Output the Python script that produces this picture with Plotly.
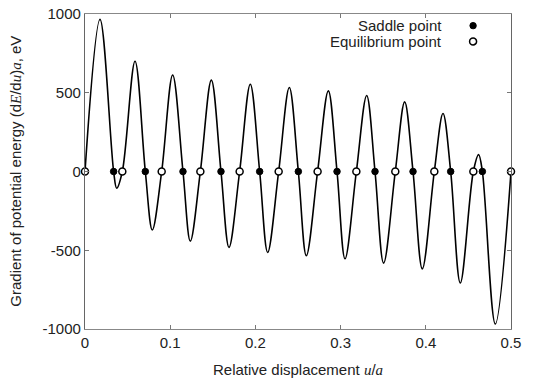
import plotly.graph_objects as go

# Curve key points (relative displacement u/a, gradient value in eV)
curve_x = [0, 0.0176, 0.0336, 0.0372, 0.0438, 0.0587, 0.0708, 0.079, 0.09, 0.1029,
           0.115, 0.1236, 0.1354, 0.1483, 0.1596, 0.169, 0.1815, 0.194, 0.205, 0.2144,
           0.2273, 0.2398, 0.2504, 0.2598, 0.273, 0.2856, 0.2958, 0.3052, 0.3185, 0.3306,
           0.3404, 0.3505, 0.3642, 0.3752, 0.385, 0.3959, 0.41, 0.4202, 0.4292, 0.4405,
           0.4558, 0.462, 0.4664, 0.4816, 0.5]
curve_y = [0, 966, 0, -106, 0, 700, 0, -371, 0, 613,
           0, -442, 0, 580, 0, -482, 0, 554, 0, -514,
           0, 533, 0, -535, 0, 512, 0, -554, 0, 483,
           0, -582, 0, 442, 0, -618, 0, 368, 0, -708,
           0, 107, 0, -968, 0]

saddle_x = [0.0336, 0.0708, 0.115, 0.1596, 0.205, 0.2504, 0.2958, 0.3404, 0.385, 0.4292, 0.4664]
saddle_y = [0] * len(saddle_x)
equil_x = [0, 0.0438, 0.09, 0.1354, 0.1815, 0.2273, 0.273, 0.3185, 0.3642, 0.41, 0.4558, 0.5]
equil_y = [0] * len(equil_x)

x_ticks = [0, 0.1, 0.2, 0.3, 0.4, 0.5]
x_tick_labels = ["0", "0.1", "0.2", "0.3", "0.4", "0.5"]
y_ticks = [-1000, -500, 0, 500, 1000]
y_tick_labels = ["-1000", "-500", "0", "500", "1000"]

legend_labels = ["Saddle point", "Equilibrium point"]

FONT = "Liberation Sans, Arial, sans-serif"
SERIF = "'Liberation Serif', 'Times New Roman', serif"
FS = 15

fig = go.Figure()
fig.add_trace(go.Scatter(x=curve_x, y=curve_y, mode="lines",
                         line=dict(color="black", width=1.6, shape="spline", smoothing=1.0),
                         showlegend=False, hoverinfo="skip"))
fig.add_trace(go.Scatter(x=saddle_x, y=saddle_y, mode="markers", name=legend_labels[0],
                         marker=dict(symbol="circle", size=6.5, color="black",
                                     line=dict(color="black", width=1)),
                         showlegend=False, cliponaxis=False))
fig.add_trace(go.Scatter(x=equil_x, y=equil_y, mode="markers", name=legend_labels[1],
                         marker=dict(symbol="circle", size=7, color="white",
                                     line=dict(color="black", width=1.5)),
                         showlegend=False, cliponaxis=False))

def ital(s):
    return f"<span style=\"font-family:{SERIF}\"><i>{s}</i></span>"

ytitle = f"Gradient of potential energy (d{ital('E')}/d{ital('u')}){ital('a')}, eV"
xtitle = f"Relative displacement {ital('u')}/{ital('a')}"

fig.update_layout(
    width=534, height=378,
    margin=dict(l=85, r=23, t=14, b=49),
    plot_bgcolor="white", paper_bgcolor="white",
    font=dict(family=FONT, size=FS, color="#222"),
    xaxis=dict(range=[0, 0.5], tickvals=x_ticks, ticktext=x_tick_labels, automargin=False,
               ticklabeloverflow="allow",
               ticks="inside", ticklen=4, tickcolor="#777", showgrid=False, zeroline=False,
               showline=True, linecolor="#888", linewidth=1.2, mirror="ticks",
               title=dict(text=xtitle, font=dict(size=FS))),
    yaxis=dict(range=[-1000, 1000], tickvals=y_ticks, ticktext=y_tick_labels, automargin=False,
               ticklabeloverflow="allow",
               ticks="inside", ticklen=4, tickcolor="#777", showgrid=False, zeroline=False,
               showline=True, linecolor="#666", linewidth=1.2, mirror="ticks"),
)

# Y-axis title as a rotated annotation (placed ~15 px from the left edge)
fig.add_annotation(x=-0.164, y=0.5, xref="paper", yref="paper", text=ytitle,
                   textangle=-90, showarrow=False, xanchor="center", yanchor="middle",
                   font=dict(size=FS, color="#222"))

# Legend drawn manually (markers to the right of text)
leg_x_text = 0.843
leg_x_mark = 0.911
leg_ys = [0.963, 0.913]
for i, lab in enumerate(legend_labels):
    fig.add_annotation(x=leg_x_text, y=leg_ys[i], xref="paper", yref="paper",
                       text=lab, showarrow=False, xanchor="right", yanchor="middle",
                       font=dict(size=FS, color="#222"))
fig.add_shape(type="circle", xref="paper", yref="paper", xsizemode="pixel", ysizemode="pixel",
              xanchor=leg_x_mark, yanchor=leg_ys[0], x0=-3.2, x1=3.2, y0=-3.2, y1=3.2,
              fillcolor="black", line=dict(color="black", width=1))
fig.add_shape(type="circle", xref="paper", yref="paper", xsizemode="pixel", ysizemode="pixel",
              xanchor=leg_x_mark, yanchor=leg_ys[1], x0=-3.5, x1=3.5, y0=-3.5, y1=3.5,
              fillcolor="white", line=dict(color="black", width=1.5))

fig.write_html("out.html", config={"displayModeBar": False},
               post_script="document.body.style.margin='0';")
